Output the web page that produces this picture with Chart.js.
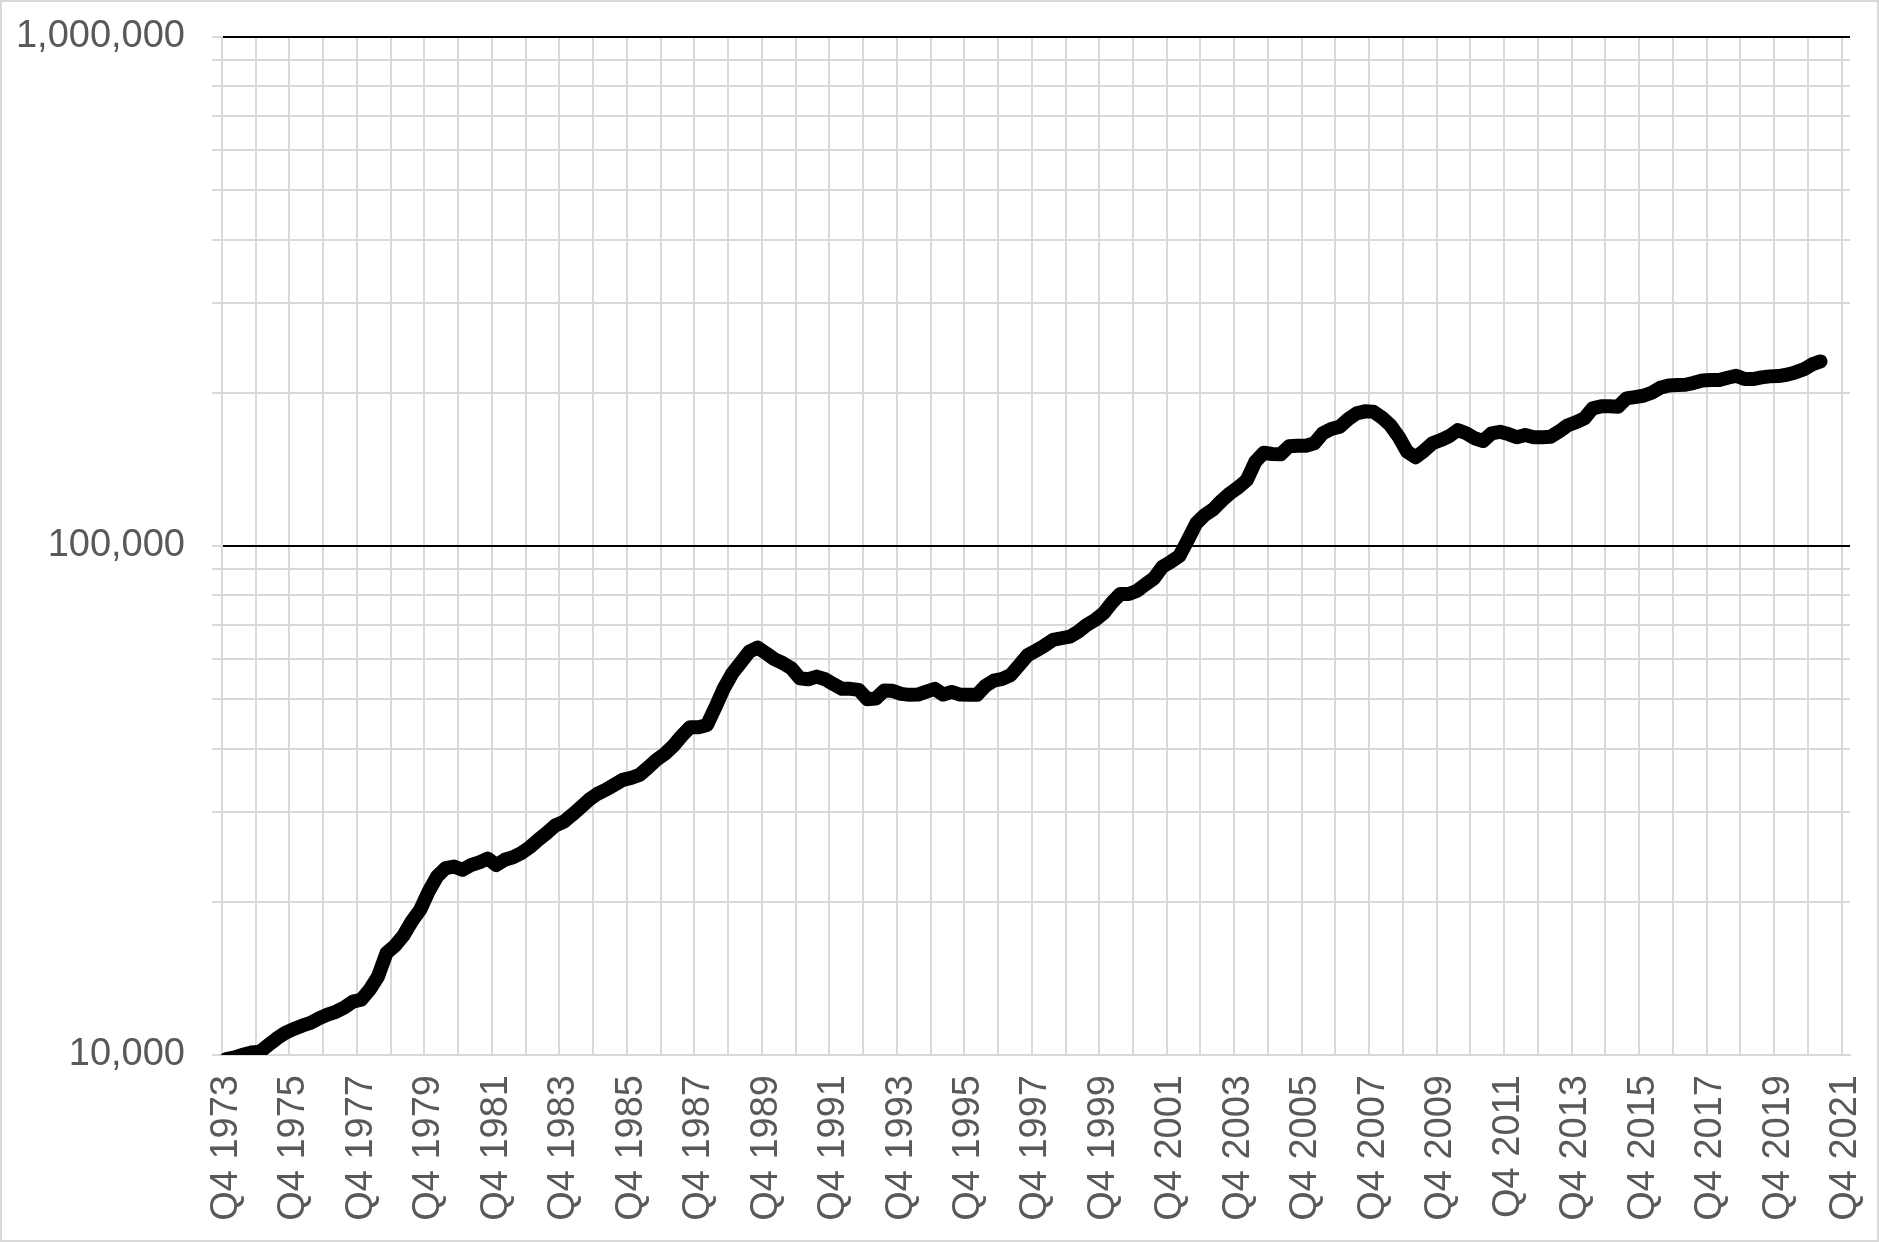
<!DOCTYPE html>
<html>
<head>
<meta charset="utf-8">
<script src="https://cdn.jsdelivr.net/npm/chart.js@4.4.0/dist/chart.umd.min.js"></script>
<style>
  html, body { margin: 0; padding: 0; background: #fff; }
  #wrap { position: relative; width: 1879px; height: 1242px; }
</style>
</head>
<body>
<div id="wrap"><canvas id="chart"></canvas></div>
<script>
// quarterly categories, Q4 1973 .. Q4 2021
const firstYear = 1973;
const quarterCount = 193;
const quarterLabels = [];
for (let n = 0; n < quarterCount; n++) {
    const q = (3 + n) % 4 + 1;
    const year = firstYear + Math.floor((3 + n) / 4);
    quarterLabels.push('Q' + q + ' ' + year);
}

// values, Q4 1973 .. Q1 2021
const seriesValues = [
    9820, 9890, 10010, 10120, 10150, 10460, 10780, 11050, 11250, 11420,
    11560, 11800, 12000, 12160, 12400, 12730, 12840, 13430, 14270, 15860,
    16390, 17160, 18300, 19290, 20960, 22420, 23290, 23460, 23110, 23600,
    23900, 24320, 23610, 24180, 24460, 24930, 25610, 26470, 27290, 28240,
    28710, 29630, 30640, 31720, 32590, 33190, 33940, 34710, 35030, 35510,
    36700, 38000, 39050, 40490, 42360, 44060, 44060, 44520, 48250, 52550,
    56230, 59000, 62000, 63130, 61560, 59920, 58850, 57530, 54990, 54740,
    55390, 54740, 53520, 52400, 52400, 52170, 50000, 50140, 52000, 51930,
    51230, 51000, 51060, 51760, 52400, 51060, 51680, 51060, 51000, 51000,
    53100, 54400, 54820, 55780, 58300, 61010, 62290, 63710, 65370, 65880,
    66350, 67870, 69970, 71560, 73760, 77400, 80510, 80510, 81700, 84100,
    86440, 91070, 93160, 95590, 102760, 110800, 115080, 118050, 122720, 126900,
    130400, 134800, 146400, 152500, 151600, 151400, 157000, 157400, 157400, 159100,
    166500, 169700, 171500, 177400, 182200, 183900, 183600, 178900, 172800, 163900,
    153200, 149400, 153800, 159100, 161500, 164400, 168900, 166500, 162800, 160800,
    166500, 167600, 165900, 163500, 165200, 163500, 163500, 163900, 167800, 172500,
    175000, 178100, 186400, 188100, 188100, 187800, 195000, 196100, 197300, 200000,
    204600, 206800, 207100, 207400, 209200, 211500, 211800, 211800, 214000, 216000,
    212800, 212800, 214400, 215400, 215700, 217000, 219300, 222300, 227400, 230500
];

const yGridValues = [10000, 20000, 30000, 40000, 50000, 60000, 70000, 80000, 90000,
    100000, 200000, 300000, 400000, 500000, 600000, 700000, 800000, 900000, 1000000];
const yLabelValues = [10000, 100000, 1000000];

const labelFont = { family: '"Liberation Sans", Arial, sans-serif', size: 38 };
const labelColor = '#595959';
const lightGrid = '#d9d9d9';

// thin grey frame round the whole chart, like the spreadsheet chart area
const chartFrame = {
    id: 'chartFrame',
    beforeDraw(chart) {
        const c = chart.ctx;
        c.save();
        c.fillStyle = '#fff';
        c.fillRect(0, 0, chart.width, chart.height);
        c.strokeStyle = lightGrid;
        c.lineWidth = 2;
        c.strokeRect(1, 1, chart.width - 2, chart.height - 2);
        c.restore();
    }
};

// keep the plot area where layout.padding puts it (no extra room for label overhang)
function noOverhang(scale) {
    scale.paddingLeft = 0;
    scale.paddingRight = 0;
    scale.paddingTop = 0;
    scale.paddingBottom = 0;
}

new Chart(document.getElementById('chart'), {
    type: 'line',
    data: {
        labels: quarterLabels,
        datasets: [{
            data: seriesValues,
            borderColor: '#000',
            borderWidth: 14,
            borderJoinStyle: 'round',
            borderCapStyle: 'round',
            pointRadius: 0,
            tension: 0,
            fill: false
        }]
    },
    options: {
        responsive: true,
        maintainAspectRatio: false,
        animation: false,
        devicePixelRatio: 1,
        layout: { padding: { left: 0, right: 29, top: 37, bottom: 0 } },
        plugins: {
            legend: { display: false },
            tooltip: { enabled: false }
        },
        scales: {
            x: {
                type: 'category',
                offset: true,
                grid: {
                    offset: true,
                    drawTicks: false,
                    lineWidth: 2,
                    color: ctx => ctx.index % 4 === 0 ? lightGrid : 'rgba(0,0,0,0)'
                },
                border: { color: lightGrid, width: 2 },
                ticks: {
                    autoSkip: false,
                    minRotation: 90,
                    maxRotation: 90,
                    padding: 20,
                    color: labelColor,
                    font: labelFont,
                    callback: (value, index) => index % 8 === 0 ? quarterLabels[index] : ''
                },
                afterFit: scale => {
                    scale.height = 187;
                    noOverhang(scale);
                }
            },
            y: {
                type: 'logarithmic',
                min: 10000,
                max: 1000000,
                afterBuildTicks: scale => {
                    scale.ticks = yGridValues.map(v => ({ value: v }));
                },
                grid: {
                    lineWidth: 2,
                    tickLength: 10,
                    tickWidth: 2,
                    tickColor: lightGrid,
                    color: ctx => {
                        const v = ctx.tick ? ctx.tick.value : 0;
                        return (v === 100000 || v === 1000000) ? '#000' : lightGrid;
                    }
                },
                border: { color: lightGrid, width: 2 },
                ticks: {
                    autoSkip: false,
                    padding: 27,
                    color: labelColor,
                    font: labelFont,
                    callback: value => yLabelValues.includes(value) ? value.toLocaleString('en-US') : ''
                },
                afterFit: scale => {
                    scale.width = 222;
                    noOverhang(scale);
                }
            }
        }
    },
    plugins: [chartFrame]
});
</script>
</body>
</html>
